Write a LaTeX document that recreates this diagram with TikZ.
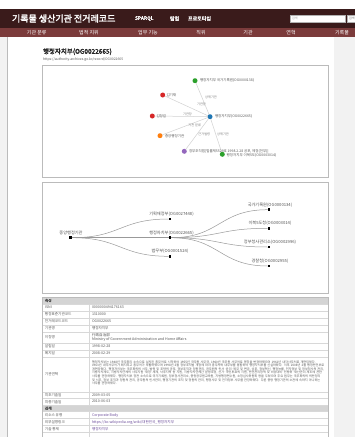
\documentclass[tikz,border=0pt]{standalone}
\usepackage{fontspec}
\setmainfont{Noto Sans CJK KR}[AutoFakeBold=2.5]
\definecolor{hdrA}{HTML}{3A1B1B}
\definecolor{hdrB}{HTML}{7B3B3B}
\definecolor{bord}{HTML}{BBBBBB}
\definecolor{pagebg}{HTML}{F2F2F2}
\definecolor{thdr}{HTML}{D4D4D4}
\definecolor{tline}{HTML}{D8D8D8}
\definecolor{ttext}{HTML}{555555}
\definecolor{linkc}{HTML}{6B4C9A}
\definecolor{cBlue}{HTML}{1F77B4}
\definecolor{cGreen}{HTML}{2CA02C}
\definecolor{cRed}{HTML}{D62728}
\definecolor{cOrange}{HTML}{FF7F0E}
\definecolor{cPurple}{HTML}{9467BD}
\newcommand{\fsz}[1]{\fontsize{#1}{#1}\selectfont}
\begin{document}
\begin{tikzpicture}[x=1pt,y=-1pt,
  every node/.style={inner sep=0pt,outer sep=0pt},
  menuitem/.style={text=white,font=\fsz{5}},
  navitem/.style={text=white,font=\bfseries\fsz{5},anchor=west},
  fnode/.style={circle,minimum size=5pt},
  flabel/.style={anchor=west,text=ttext,font=\fsz{3.5}},
  elabel/.style={text=gray,font=\fsz{3.2}},
  flink/.style={draw=black!18,line width=0.5pt},
  tnode/.style={rectangle,fill=black,minimum size=2.6pt},
  tlabel/.style={text=ttext,font=\fsz{4.2}},
  tlink/.style={draw=black!40,line width=0.5pt},
  rowlab/.style={anchor=west,text=ttext,font=\fsz{3.6}},
  rowval/.style={anchor=west,text=ttext,font=\fsz{3.6}},
  linkval/.style={anchor=west,text=linkc,font=\fsz{3.6}},
  panel/.style={draw=bord,line width=0.6pt}]
\useasboundingbox (0,0) rectangle (355,437);
\clip (0,0) rectangle (355,437);
% page background
\fill[white] (0,0) rectangle (355,437);
\fill[pagebg] (334,37) rectangle (355,437);
\fill[pagebg] (0,37) rectangle (7.5,437);
\draw[bord,line width=0.5pt] (7.5,37) -- (7.5,437);
% header bars
\fill[hdrA] (0,9) rectangle (355,28);
\fill[hdrB] (0,28) rectangle (355,37);
\node[anchor=west,text=white,font=\bfseries\fsz{9}] (title) at (12,18.5) {기록물 생산기관 전거레코드};
\node[navitem] (sparql) at (135,18.5) {SPARQL};
\node[navitem] (explore) at (170,18.5) {탐험};
\node[navitem] (proto) at (188,18.5) {프로토타입};
\node[draw=black!30,fill=white,minimum width=55pt,minimum height=6.5pt,anchor=west] (search) at (290,18.5) {};
\node[anchor=west,text=black!40,font=\fsz{3}] (searchtxt) at (292,18.5) {검색};
\node[draw=black!30,fill=white,minimum width=14pt,minimum height=6.5pt,anchor=west] (searchbtn) at (347,18.5) {};
\node[anchor=west,text=black!60,font=\fsz{3}] (searchbtntxt) at (349,18.5) {검색};
\node[menuitem] (m-a) at (36.7,32.5) {기관 분류};
\node[menuitem] (m-b) at (89,32.5) {법적 지위};
\node[menuitem] (m-c) at (148,32.5) {업무 기능};
\node[menuitem] (m-d) at (201,32.5) {직위};
\node[menuitem] (m-e) at (248,32.5) {기관};
\node[menuitem] (m-f) at (291,32.5) {연혁};
\node[menuitem] (m-g) at (342,32.5) {기록물};
% card title
\node[anchor=west,font=\bfseries\fsz{6.5},text=black!85] (ctitle) at (43,51.7) {행정자치부(OG0022665)};
\node[anchor=west,font=\fsz{3.4},text=ttext] (curl) at (43,59.3) {https://authority.archives.go.kr/record/OG0022665};
% panel 1: force graph
\draw[panel] (42,65) rectangle (328,177);
\node[fnode,fill=cBlue] (fc) at (210,116.7) {};
\node[fnode,fill=cGreen] (fg1) at (195,80.7) {};
\node[fnode,fill=cRed] (fr1) at (162.7,95) {};
\node[fnode,fill=cRed] (fr2) at (152.3,116) {};
\node[fnode,fill=cOrange] (fo) at (160,135.7) {};
\node[fnode,fill=cPurple] (fp) at (184.3,151.3) {};
\node[fnode,fill=cGreen] (fg2) at (222.3,154.3) {};
\draw[flink] (fc) -- (fg1);
\draw[flink] (fc) -- (fr1);
\draw[flink] (fc) -- (fr2);
\draw[flink] (fc) -- (fo);
\draw[flink] (fc) -- (fp);
\draw[flink] (fc) -- (fg2);
\node[flabel] (fcL) at (215,116.7) {행정자치부(OG0022665)};
\node[flabel] (fg1L) at (200,80.7) {행정자치부 국가기록원(OG0000138)};
\node[flabel] (fr1L) at (166.5,95) {김기재};
\node[flabel] (fr2L) at (156.5,116) {김정길};
\node[flabel] (foL) at (165,135.7) {중앙행정기관};
\node[flabel] (fpL) at (189,151.3) {정부조직법[법률제5529호 1998.2.28 공포, 제정(전부)]};
\node[flabel] (fg2L) at (226.7,155.3) {행정자치부 이북5도(OG0003014)};
\node[elabel] (e1) at (211,97) {상위기관};
\node[elabel] (e2) at (201.5,104.5) {기관장};
\node[elabel] (e3) at (187.5,114.3) {기관장};
\node[elabel] (e4) at (194.7,125.7) {기관 분류};
\node[elabel] (e5) at (204.3,134) {근거법령};
\node[elabel] (e6) at (223,134) {상위기관};
% panel 2: tree
\draw[panel] (42,182) rectangle (328,293);
\node[tnode] (root) at (70.7,237.7) {};
\node[tnode] (t1) at (170,219) {};
\node[tnode] (t2) at (170,237.7) {};
\node[tnode] (t3) at (170,256.3) {};
\node[tnode] (r1) at (269,209.7) {};
\node[tnode] (r2) at (269,228.3) {};
\node[tnode] (r3) at (269,247) {};
\node[tnode] (r4) at (269,266) {};
\draw[tlink] (root) .. controls +(50,0) and +(-50,0) .. (t1);
\draw[tlink] (root) .. controls +(50,0) and +(-50,0) .. (t2);
\draw[tlink] (root) .. controls +(50,0) and +(-50,0) .. (t3);
\draw[tlink] (t2) .. controls +(50,0) and +(-50,0) .. (r1);
\draw[tlink] (t2) .. controls +(50,0) and +(-50,0) .. (r2);
\draw[tlink] (t2) .. controls +(50,0) and +(-50,0) .. (r3);
\draw[tlink] (t2) .. controls +(50,0) and +(-50,0) .. (r4);
\node[tlabel] (rootL) at (71,232.6) {중앙행정기관};
\node[tlabel] (t1L) at (171.5,214.2) {기획재정부(OG0027448)};
\node[tlabel] (t2L) at (171.5,232.8) {행정자치부(OG0022665)};
\node[tlabel] (t3L) at (170,251.4) {법무부(OG0001524)};
\node[tlabel] (r1L) at (270,204.8) {국가기록원(OG0000134)};
\node[tlabel] (r2L) at (270,223.4) {이북5도청(OG0003014)};
\node[tlabel] (r3L) at (270,242.1) {정부청사관리소(OG0002996)};
\node[tlabel] (r4L) at (270,261.1) {경찰청(OG0002955)};
% table
\fill[thdr] (42,297) rectangle (328,304);
\fill[thdr] (42,405) rectangle (328,411.5);
\foreach \yy in {304,311,318,325,332,343,350,357,392,398.5,405,411.5,418.5,425.5,432.5}
  \draw[tline,line width=0.5pt] (42,\yy) -- (328,\yy);
\draw[tline,line width=0.5pt] (89,304) -- (89,405);
\draw[tline,line width=0.5pt] (89,411.5) -- (89,437);
\draw[bord,line width=0.6pt] (42,437.5) -- (42,297) -- (328,297) -- (328,437.5);
\node[rowlab,font=\bfseries\fsz{3.6}] (h1) at (45,300.5) {속성};
\node[rowlab] (l1) at (45,307.5) {ISNI};
\node[rowval] (v1) at (92,307.5) {0000000494176163};
\node[rowlab] (l2) at (45,314.5) {행정표준기관코드};
\node[rowval] (v2) at (92,314.5) {1310000};
\node[rowlab] (l3) at (45,321.5) {전거레코드코드};
\node[rowval] (v3) at (92,321.5) {OG0022665};
\node[rowlab] (l4) at (45,328.5) {기관명};
\node[rowval] (v4) at (92,328.5) {행정자치부};
\node[rowlab] (l5) at (45,337.5) {이칭명};
\node[rowval,align=left] (v5) at (92,337.5) {行政自治部\\[0.6pt]Ministry of Government Administration and Home Affairs};
\node[rowlab] (l6) at (45,346.5) {설립일};
\node[rowval] (v6) at (92,346.5) {1998-02-28};
\node[rowlab] (l7) at (45,353.5) {폐지일};
\node[rowval] (v7) at (92,353.5) {2008-02-29};
\node[rowlab] (l8) at (45,374.5) {기관연혁};
\node[anchor=north west,text=ttext,font=\fontsize{3.1}{3.6}\selectfont,text width=233pt,align=left] (v8) at (92,360.5) {행정자치부는 1948년 국무총리 소속으로 설치된 총무처로 시작하여 1955년 국무원 사무국, 1960년 국무원 사무처로 명칭을 변경하였으며 1961년 내각사무처로 개편되었다. 1963년 내각사무처가 폐지되고 총무처가 부활하였으며 1998년 2월 정부조직법 개정에 따라 총무처와 내무부를 통합하여 행정자치부를 신설하였다. 이후 2008년 2월 행정안전부로 개편되었다. 행정자치부는 국무회의의 서무, 법령 및 조약의 공포, 정부조직과 정원관리, 공무원의 인사·윤리·복무 및 연금, 상훈, 정부혁신, 행정능률, 전자정부 및 정부청사의 관리, 지방자치제도, 지방자치단체의 사무지원·재정·세제, 낙후지역 등 지원, 지방자치단체간 분쟁조정, 선거·국민투표의 지원, 안전관리정책 및 비상대비·민방위·재난관리 제도에 관한 사무를 관장하였다. 행정자치부 장관 소속으로 국가기록원, 정부청사관리소, 중앙공무원교육원, 지방행정연수원, 소청심사위원회 등을 두었으며 주요 업무는 국무회의의 의안정리 및 서무, 정부 조직과 정원의 관리, 공무원의 인사관리, 행정기관의 조직 및 정원의 관리, 행정사무 및 전자정부 사무를 관장하였다. 다른 중앙 행정기관의 소관에 속하지 아니하는 사무를 관장하였다.};
\node[rowlab] (l9) at (45,395.2) {최초기술일};
\node[rowval] (v9) at (92,395.2) {2009-03-05};
\node[rowlab] (l10) at (45,401.7) {최종기술일};
\node[rowval] (v10) at (92,401.7) {2010-06-03};
\node[rowlab,font=\bfseries\fsz{3.6}] (h2) at (45,408.2) {관계};
\node[rowlab] (l11) at (45,415) {리소스 유형};
\node[linkval] (v11) at (92,415) {Corporate Body};
\node[rowlab] (l12) at (45,422) {외부설명링크};
\node[linkval] (v12) at (92,422) {https://ko.wikipedia.org/wiki/대한민국\_행정자치부};
\node[rowlab] (l13) at (45,429) {기술 통제};
\node[linkval] (v13) at (92,429) {행정자치부};
\end{tikzpicture}
\end{document}
